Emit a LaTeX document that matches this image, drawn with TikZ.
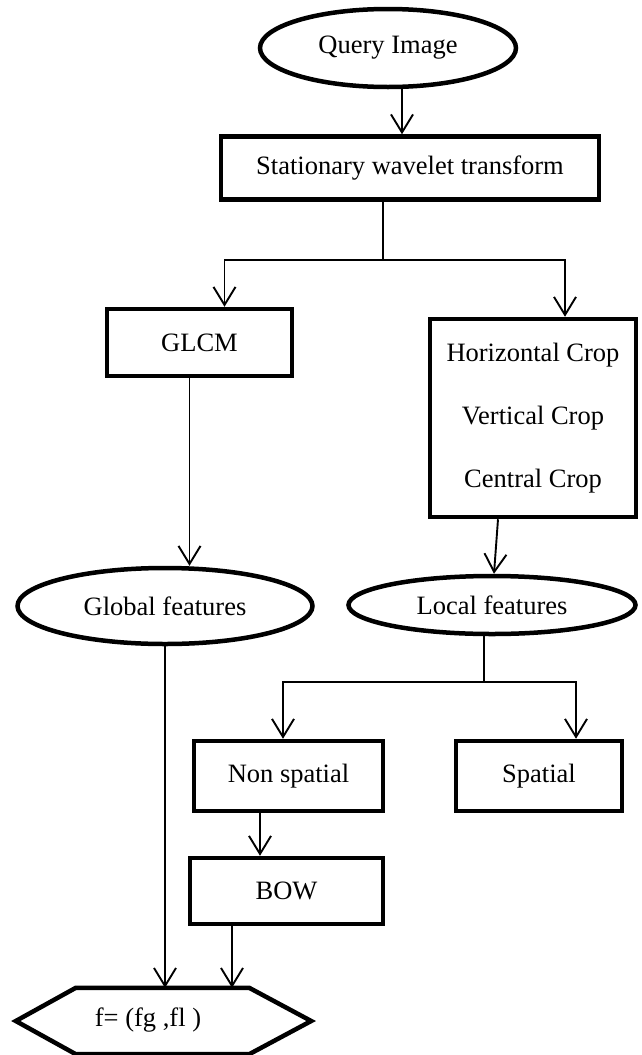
\documentclass[tikz,border=0pt]{standalone}
\usepackage{fontspec}
\setmainfont{Liberation Serif}
\usetikzlibrary{shapes.geometric,arrows.meta}
\begin{document}
\begin{tikzpicture}[x=1pt,y=-1pt,
  every node/.style={font=\fontsize{26.5}{30}\selectfont},
  box/.style={draw,line width=4.5pt,rectangle,inner sep=0pt},
  oval/.style={draw,line width=4.5pt,ellipse,inner sep=0pt},
  conn/.style={line width=1.9pt},
  arr/.style={conn,-{Straight Barb[length=18pt,width=22pt,line width=1.9pt]}}]
\useasboundingbox (0,0) rectangle (641,1055);
\node[oval,minimum width=256pt,minimum height=78pt] (q) at (388,48) {Query Image};
\node[box,minimum width=378pt,minimum height=63pt] (swt) at (410,168) {Stationary wavelet transform};
\node[box,minimum width=185pt,minimum height=67pt] (glcm) at (199.5,342.5) {GLCM};
\node[box,minimum width=206pt,minimum height=198pt,align=center,
      font=\fontsize{26.5}{63}\selectfont] (crop) at (533,418)
      {Horizontal Crop\\Vertical Crop\\Central Crop};
\node[oval,minimum width=295pt,minimum height=76pt] (gf) at (165,606) {Global features};
\node[oval,minimum width=287pt,minimum height=58pt] (lf) at (492,605) {Local features};
\node[box,minimum width=189pt,minimum height=70pt] (ns) at (288.5,776) {Non spatial};
\node[box,minimum width=166pt,minimum height=70pt] (sp) at (539,776) {Spatial};
\node[box,minimum width=193pt,minimum height=66pt] (bow) at (286.5,891) {BOW};
\node[minimum width=295pt,minimum height=66pt,inner sep=0pt] (hex) at (163.5,1021) {};
\node (hexlabel) at (148,1020) {f= (fg ,fl )};
\draw[line width=4.5pt,line join=miter]
  (hex.west) -- ([xshift=60pt]hex.north west) -- ([xshift=-62pt]hex.north east)
  -- (hex.east) -- ([xshift=-62pt]hex.south east) -- ([xshift=60pt]hex.south west) -- cycle;
\coordinate (s1) at (383,260);
\coordinate (s2) at (484,682);
\draw[arr] ([xshift=14pt]q.south) -- ([xshift=-8pt]swt.north);
\draw[conn] ([xshift=-27pt]swt.south) -- (s1);
\draw[arr] (s1) -| ([xshift=25pt]glcm.north);
\draw[arr] (s1) -| ([xshift=32pt]crop.north);
\draw[arr] ([xshift=-10pt]glcm.south) -- ([xshift=-10pt]glcm.south |- gf.north);
\draw[arr] ([xshift=-35pt]crop.south) -- ([xshift=2pt]lf.north);
\draw[conn] ([xshift=-8pt]lf.south) -- (s2);
\draw[arr] (s2) -| ([xshift=-5.5pt]ns.north);
\draw[arr] (s2) -| ([xshift=37pt]sp.north);
\draw[arr] ([xshift=-28.5pt]ns.south) -- ([xshift=-28.5pt]ns.south |- bow.north);
\draw[arr] ([xshift=-54.5pt]bow.south) -- ([xshift=-54.5pt]bow.south |- hex.north);
\draw[arr] (gf.south) -- (gf.south |- hex.north);
\end{tikzpicture}
\end{document}
